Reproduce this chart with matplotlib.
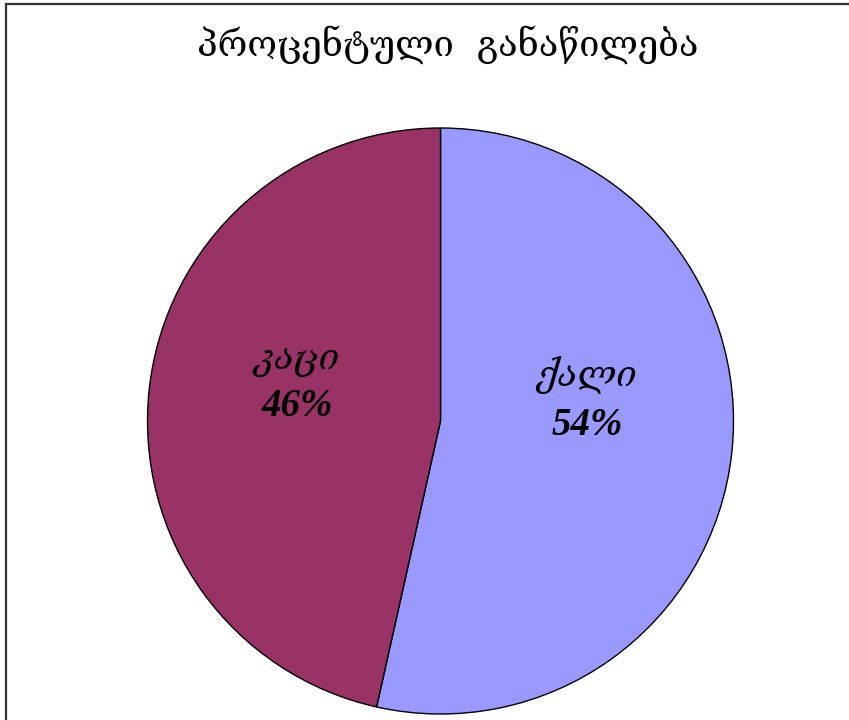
import matplotlib
matplotlib.use("Agg")
import matplotlib.pyplot as plt
from matplotlib.patches import Rectangle

# Data
categories = ["ქალი", "კაცი"]
shares = [53.5, 46.5]
colors = ["#9999FF", "#993366"]
title = "პროცენტული  განაწილება"

W, H = 849, 720
fig = plt.figure(figsize=(W / 100, H / 100), dpi=100)

# Outer frame (left and top edges visible, the rest runs off the picture)
fig.patches.append(Rectangle((6 / W, -0.1), 1.2, 1 - 4 / H + 0.1, transform=fig.transFigure,
                             fill=False, ec="#333333", lw=1.6))

# Pie placed in pixel space: centre (440, 421), radius 293 px
cx, cy, r = 440.5, 421, 293
ax = fig.add_axes([(cx - r) / W, (H - cy - r) / H, 2 * r / W, 2 * r / H])
wedges, _ = ax.pie(shares, colors=colors, startangle=90, counterclock=False,
                   wedgeprops=dict(edgecolor="black", linewidth=1.0))
ax.set_xlim(-1, 1)
ax.set_ylim(-1, 1)
ax.set_aspect("equal")
ax.axis("off")

# Data labels inside slices: name on top, percentage below
label_pos = [(0.50, 0.157, -0.014), (-0.49, 0.208, 0.048)]
for (x, y_name, y_pct), cat, val in zip(label_pos, categories, shares):
    ax.text(x, y_name, cat, ha="center", va="center", fontsize=26,
            style="italic", family=["DejaVu Serif", "DejaVu Sans"])
    ax.text(x, y_pct, f"{val:.0f}%", ha="center", va="center", fontsize=28,
            fontweight="bold", style="italic", family=["Liberation Serif", "DejaVu Serif"])

fig.text(448 / W, 1 - 45 / H, title, ha="center", va="center", fontsize=26,
         family=["DejaVu Serif", "DejaVu Sans"])

fig.savefig("out.png", dpi=100)
